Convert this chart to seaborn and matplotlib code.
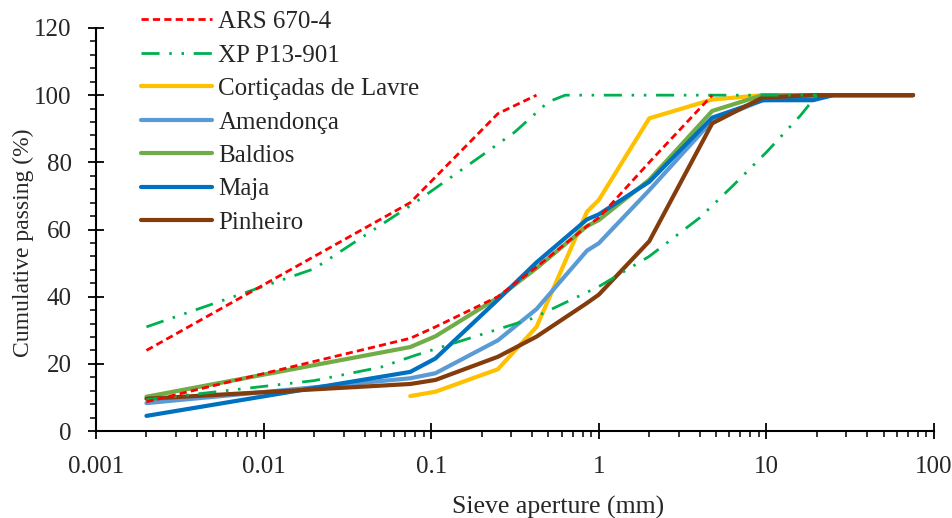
import numpy as np
import pandas as pd
import matplotlib
matplotlib.use("Agg")
import matplotlib.pyplot as plt
import seaborn as sns
from matplotlib.ticker import FixedLocator, NullFormatter, MultipleLocator

# ---------------- data ----------------
ars_upper_x = [0.002, 0.075, 0.25, 0.425]
ars_upper_y = [24, 68, 94.5, 100]
ars_lower_x = [0.002, 0.075, 0.106, 0.25, 0.425, 0.85, 1, 2, 4.75]
ars_lower_y = [8.7, 27.6, 31, 40, 48.8, 61, 63.5, 80, 100]

xp_upper_x = [0.002, 0.02, 0.08, 0.2, 0.315, 0.5, 0.63, 20]
xp_upper_y = [31, 48.3, 68, 82, 89, 98, 100, 100]
xp_lower_x = [0.002, 0.02, 0.05, 0.08, 0.4, 1, 2, 4, 6.3, 10, 16, 20]
xp_lower_y = [9.3, 15, 19, 22.5, 33.5, 43, 52, 63.5, 73, 83, 94, 100]

sieves = [0.002, 0.075, 0.106, 0.25, 0.425, 0.85, 1, 2, 4.75, 9.5, 19, 25, 75]
corticadas_x = sieves[1:]
corticadas_y = [10.4, 11.7, 18.4, 31, 65.3, 68.8, 93.1, 98.7, 100, 100, 100, 100]
amendonca_y = [8.3, 15.7, 17.2, 27, 36.3, 53.7, 55.9, 71.7, 92.4, 98.5, 99, 100, 100]
baldios_y = [10.2, 25, 28.2, 39.7, 48.5, 61, 62.8, 74.8, 95.3, 100, 100, 100, 100]
maja_y = [4.5, 17.6, 21.6, 39.1, 50.2, 63, 64.5, 74.2, 93.3, 98.5, 98.5, 100, 100]
pinheiro_y = [9.6, 14, 15.2, 22.1, 28.1, 38.1, 40.6, 56.5, 91.6, 99.3, 100, 100, 100]

x_ticks = [0.001, 0.01, 0.1, 1, 10, 100]
x_tick_labels = ["0.001", "0.01", "0.1", "1", "10", "100"]
y_ticks = [0, 20, 40, 60, 80, 100, 120]

# ---------------- style ----------------
sns.set_theme(style="white")
plt.rcParams['font.family'] = ['Liberation Serif', 'DejaVu Serif']
FS_TICK = 18
FS_LEG = 18

W, H = 953, 518
fig = plt.figure(figsize=(W / 100, H / 100), dpi=100)
ax = fig.add_axes([96 / W, 1 - 431 / H, (934 - 96) / W, (431 - 28) / H])

samples = [
    ("Cortiçadas de Lavre", corticadas_x, corticadas_y, "#FFC000"),
    ("Amendonça", sieves, amendonca_y, "#5B9BD5"),
    ("Baldios", sieves, baldios_y, "#70AD47"),
    ("Maja", sieves, maja_y, "#0070C0"),
    ("Pinheiro", sieves, pinheiro_y, "#843C0C"),
]

handles = {}
for name, xs, ys, col in samples:
    df = pd.DataFrame({"x": xs, "y": ys})
    sns.lineplot(data=df, x="x", y="y", ax=ax, color=col, lw=3.0,
                 sort=False, errorbar=None, solid_capstyle="round",
                 solid_joinstyle="round", zorder=3)
    handles[name] = ax.lines[-1]

ars_dash = (0, (2.6, 1.5))
xp_dash = (0, (6.5, 3.5, 0.9, 3.5, 0.9, 3.5))

for xs, ys in [(ars_upper_x, ars_upper_y), (ars_lower_x, ars_lower_y)]:
    df = pd.DataFrame({"x": xs, "y": ys})
    sns.lineplot(data=df, x="x", y="y", ax=ax, color="#FF0000", lw=2.0,
                 sort=False, errorbar=None, zorder=5)
    ax.lines[-1].set_linestyle(ars_dash)
    handles["ARS 670-4"] = ax.lines[-1]

for xs, ys in [(xp_upper_x, xp_upper_y), (xp_lower_x, xp_lower_y)]:
    df = pd.DataFrame({"x": xs, "y": ys})
    sns.lineplot(data=df, x="x", y="y", ax=ax, color="#00B050", lw=2.0,
                 sort=False, errorbar=None, zorder=4)
    ax.lines[-1].set_linestyle(xp_dash)
    handles["XP P13-901"] = ax.lines[-1]

ax.set_xscale("log")
ax.set_xlim(0.001, 100)
ax.set_ylim(0, 120)

ax.xaxis.set_major_locator(FixedLocator(x_ticks))
ax.set_xticklabels(x_tick_labels)
minors = [m * 10.0 ** e for e in range(-3, 2) for m in range(2, 10)]
ax.xaxis.set_minor_locator(FixedLocator(minors))
ax.xaxis.set_minor_formatter(NullFormatter())
ax.yaxis.set_major_locator(FixedLocator(y_ticks))
ax.yaxis.set_minor_locator(MultipleLocator(4))

for s in ["top", "right"]:
    ax.spines[s].set_visible(False)
for s in ["left", "bottom"]:
    ax.spines[s].set_color("black")
    ax.spines[s].set_linewidth(1.5)

ax.tick_params(axis="x", which="major", direction="inout", length=12, width=1.3,
               color="black", pad=12, labelsize=FS_TICK, bottom=True)
ax.tick_params(axis="x", which="minor", direction="out", length=4.5, width=1.1,
               color="black", bottom=True)
ax.tick_params(axis="y", which="major", direction="inout", length=11, width=1.3,
               color="black", pad=12, labelsize=FS_TICK, left=True)
ax.tick_params(axis="y", which="minor", direction="out", length=4.5, width=1.1,
               color="black", left=True)

ax.set_xlabel("Sieve aperture (mm)", fontsize=18.5)
ax.xaxis.set_label_coords((558 - 96) / 838, (431 - 496) / 403)
ax.set_ylabel("Cumulative passing (%)", fontsize=17)
ax.yaxis.set_label_coords((34 - 96) / 838, (431 - 243) / 403)
ax.grid(False)

order = ["ARS 670-4", "XP P13-901", "Cortiçadas de Lavre", "Amendonça",
         "Baldios", "Maja", "Pinheiro"]
fig.legend([handles[k] for k in order], order, loc="upper left",
           bbox_to_anchor=(131 / W, 1 - 0.5 / H), frameon=False, fontsize=FS_LEG,
           handlelength=2.85, handletextpad=0.25, labelspacing=0.44,
           borderaxespad=0)

fig.savefig("out.png", dpi=100)
